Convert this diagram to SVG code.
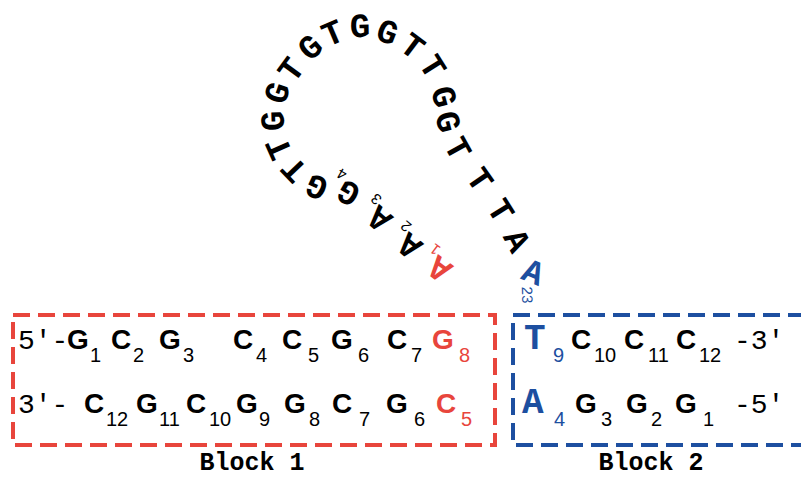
<svg xmlns="http://www.w3.org/2000/svg" width="801" height="478" viewBox="0 0 801 478">
<style>
.lp{font-family:"Liberation Mono","Courier New",monospace;font-weight:bold;font-size:34px;text-anchor:middle;fill:#000}
.ls{font-family:"Liberation Sans",Arial,sans-serif;font-size:15px;fill:#000}
.b{font-family:"Liberation Sans",Arial,sans-serif;font-weight:bold;font-size:28px;fill:#000}
.s{font-family:"Liberation Sans",Arial,sans-serif;font-size:20px;fill:#000}
.m{font-family:"Liberation Mono","Courier New",monospace;font-size:28px;fill:#000}
.mb{font-family:"Liberation Mono","Courier New",monospace;font-weight:bold;font-size:36px}
.lbl{font-family:"Liberation Mono","Courier New",monospace;font-weight:bold;font-size:25px;text-anchor:middle;fill:#000}
.red{fill:#e8453c}
.blue{fill:#1d4fa0}
.box{fill:none;stroke-width:4;stroke-dasharray:17 8}
</style>
<rect width="801" height="478" fill="#fff"/>
<g id="loop">
<g transform="translate(440,268) rotate(-143)"><text class="lp red" y="10">A</text><text class="ls red" x="11" y="17">1</text></g>
<g transform="translate(410,245) rotate(-140)"><text class="lp" y="10">A</text><text class="ls" x="11" y="17">2</text></g>
<g transform="translate(380,218) rotate(-139)"><text class="lp" y="10">A</text><text class="ls" x="11" y="17">3</text></g>
<g transform="translate(349,192) rotate(-150)"><text class="lp" y="10">G</text><text class="ls" x="11" y="17">4</text></g>
<g transform="translate(317,186) rotate(-155)"><text class="lp" y="10">G</text></g>
<g transform="translate(295,169) rotate(-134)"><text class="lp" y="10">T</text></g>
<g transform="translate(280,148) rotate(-114)"><text class="lp" y="10">T</text></g>
<g transform="translate(274,121) rotate(-92)"><text class="lp" y="10">G</text></g>
<g transform="translate(278,93) rotate(-71)"><text class="lp" y="10">G</text></g>
<g transform="translate(292,70) rotate(-54)"><text class="lp" y="10">T</text></g>
<g transform="translate(311,48) rotate(-41)"><text class="lp" y="10">G</text></g>
<g transform="translate(333,34) rotate(-23)"><text class="lp" y="10">T</text></g>
<g transform="translate(360,27) rotate(-1)"><text class="lp" y="10">G</text></g>
<g transform="translate(387,33) rotate(21)"><text class="lp" y="10">G</text></g>
<g transform="translate(412,47) rotate(37)"><text class="lp" y="10">T</text></g>
<g transform="translate(432,67) rotate(58)"><text class="lp" y="10">T</text></g>
<g transform="translate(443,97) rotate(75)"><text class="lp" y="10">G</text></g>
<g transform="translate(447,122) rotate(75)"><text class="lp" y="10">G</text></g>
<g transform="translate(457,149) rotate(61)"><text class="lp" y="10">T</text></g>
<g transform="translate(479,180) rotate(55)"><text class="lp" y="10">T</text></g>
<g transform="translate(500,211) rotate(58)"><text class="lp" y="10">T</text></g>
<g transform="translate(516,241) rotate(62)"><text class="lp" y="10">A</text></g>
<g transform="translate(533,273) rotate(22)"><text class="lp blue" y="10">A</text></g>
<text class="ls blue" text-anchor="middle" transform="translate(527,295) rotate(88)" y="5">23</text>
</g>
<g id="block1">
<rect class="box" x="13" y="315" width="482" height="130" stroke="#e8453c"/>
<text class="m" x="18" y="349">5'-</text>
<text class="b" x="67" y="349">G</text><text class="s" x="90" y="362">1</text>
<text class="b" x="111" y="349">C</text><text class="s" x="133" y="362">2</text>
<text class="b" x="159" y="349">G</text><text class="s" x="183" y="362">3</text>
<text class="b" x="233" y="349">C</text><text class="s" x="256" y="362">4</text>
<text class="b" x="282" y="349">C</text><text class="s" x="308" y="362">5</text>
<text class="b" x="331" y="349">G</text><text class="s" x="358" y="362">6</text>
<text class="b" x="387" y="349">C</text><text class="s" x="411" y="362">7</text>
<text class="b red" x="432" y="349">G</text><text class="s red" x="459" y="362">8</text>
<text class="m" x="18" y="413">3'-</text>
<text class="b" x="84" y="413">C</text><text class="s" x="106" y="426">12</text>
<text class="b" x="136" y="413">G</text><text class="s" x="159" y="426">11</text>
<text class="b" x="186" y="413">C</text><text class="s" x="209" y="426">10</text>
<text class="b" x="236" y="413">G</text><text class="s" x="259" y="426">9</text>
<text class="b" x="284" y="413">G</text><text class="s" x="309" y="426">8</text>
<text class="b" x="332" y="413">C</text><text class="s" x="359" y="426">7</text>
<text class="b" x="386" y="413">G</text><text class="s" x="414" y="426">6</text>
<text class="b red" x="436" y="413">C</text><text class="s red" x="461" y="426">5</text>
<text class="lbl" x="252" y="470">Block 1</text>
</g>
<g id="block2">
<rect class="box" x="513" y="315" width="320" height="130" stroke="#1d4fa0"/>
<text class="mb blue" x="524" y="349">T</text><text class="s blue" x="553" y="362">9</text>
<text class="b" x="571" y="349">C</text><text class="s" x="594" y="362">10</text>
<text class="b" x="624" y="349">C</text><text class="s" x="648" y="362">11</text>
<text class="b" x="676" y="349">C</text><text class="s" x="699" y="362">12</text>
<text class="m" x="734" y="349">-3'</text>
<text class="mb blue" x="522" y="413">A</text><text class="s blue" x="554" y="426">4</text>
<text class="b" x="575" y="413">G</text><text class="s" x="601" y="426">3</text>
<text class="b" x="626" y="413">G</text><text class="s" x="651" y="426">2</text>
<text class="b" x="675" y="413">G</text><text class="s" x="703" y="426">1</text>
<text class="m" x="734" y="413">-5'</text>
<text class="lbl" x="651" y="470">Block 2</text>
</g>
</svg>
